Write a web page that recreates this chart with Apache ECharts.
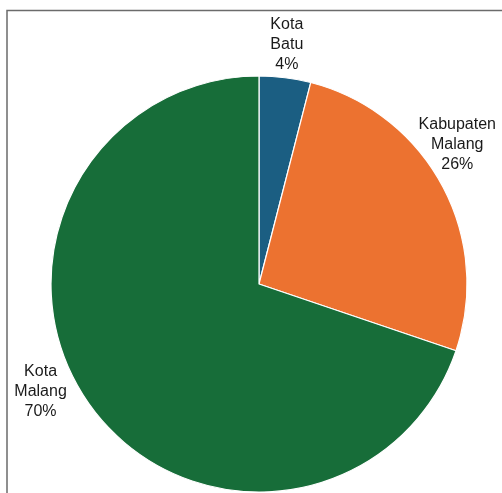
<!DOCTYPE html>
<html>
<head>
<meta charset="utf-8">
<script src="https://cdn.jsdelivr.net/npm/echarts@6/dist/echarts.min.js"></script>
<style>html,body{margin:0;padding:0;background:#fff}#c{width:502px;height:493px}</style>
</head>
<body>
<div id="c"></div>
<script>
const categories = ['Kota\nBatu', 'Kabupaten\nMalang', 'Kota\nMalang'];
const values = [4.0, 26.2, 69.8];
const colors = ['#1b5e82', '#ec7230', '#176d39'];
const labelNudge = [[-7, -3], [-16, -26], [-20, -31]];

const chart = echarts.init(document.getElementById('c'), null, {renderer: 'canvas'});
chart.setOption({
  animation: false,
  graphic: [{
    type: 'rect',
    shape: {x: 7, y: 10.5, width: 700, height: 700},
    style: {fill: 'none', stroke: '#6b6b6b', lineWidth: 1.5},
    silent: true
  }],
  series: [{
    type: 'pie',
    center: [259, 284],
    radius: 208,
    startAngle: 90,
    clockwise: true,
    avoidLabelOverlap: false,
    itemStyle: {borderColor: '#fff', borderWidth: 1.2},
    label: {
      show: true,
      position: 'outside',
      fontFamily: 'Liberation Sans, Arial, sans-serif',
      fontSize: 16,
      lineHeight: 20,
      color: '#1a1a1a',
      align: 'center',
      formatter: p => p.name + '\n' + Math.round(p.percent) + '%'
    },
    labelLine: {show: false, length: 30, length2: 0},
    labelLayout: function (p) {
      const n = labelNudge[p.dataIndex];
      return {align: 'center', dx: n[0], dy: n[1]};
    },
    data: categories.map((c, i) => ({name: c, value: values[i], itemStyle: {color: colors[i]}}))
  }]
});
</script>
</body>
</html>
